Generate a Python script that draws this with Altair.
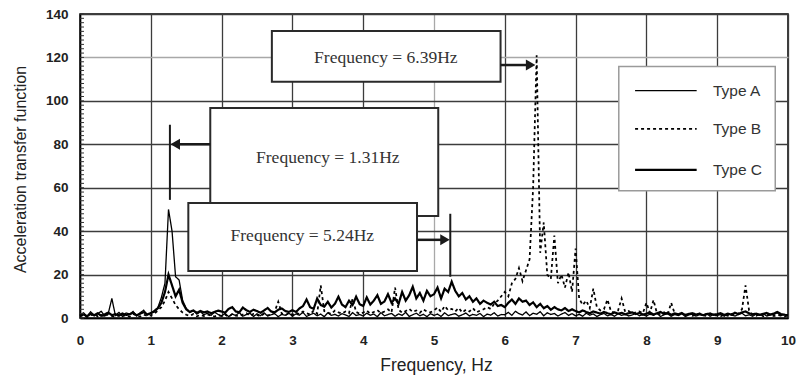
import altair as alt
import pandas as pd

# ---------------- data ----------------
step = 0.05
freq = [round(i * step, 2) for i in range(201)]

type_a = [
    1.5, 2.4, 0.8, 2.9, 1.2, 2.0, 3.1, 0.9, 2.2, 9.0, 1.1, 2.6, 0.7, 2.3, 1.8, 3.0, 1.0, 2.4, 3.6, 1.4,
    2.0, 3.5, 4.8, 9.5, 16.0, 50.0, 40.0, 19.0, 17.5, 8.0, 4.5, 2.6, 3.4, 1.8, 2.9, 1.5, 2.2, 1.2, 2.7, 1.6,
    1.0, 2.1, 0.6, 1.8, 1.2, 2.5, 0.8, 1.6, 2.2, 0.7, 1.9, 1.1, 2.4, 0.9, 1.5, 2.0, 0.6, 1.7, 1.2, 2.3,
    0.8, 1.9, 1.3, 2.6, 0.7, 1.5, 2.2, 1.0, 1.8, 0.6, 2.4, 1.2, 1.7, 0.9, 2.0, 1.4, 0.7, 2.5, 1.1, 1.6,
    0.9, 2.2, 1.3, 1.8, 0.6, 2.5, 1.0, 1.6, 2.1, 0.8, 1.9, 1.2, 2.6, 0.7, 1.5, 2.2, 1.0, 1.7, 0.6, 2.0,
    1.2, 1.8, 0.7, 2.4, 1.1, 1.6, 2.0, 0.8, 1.5, 2.3, 0.9, 1.7, 1.2, 2.1, 0.6, 1.8, 1.3, 2.4, 0.9, 1.6,
    1.5, 2.6, 1.2, 3.1, 2.0, 1.4, 2.8, 1.1, 2.2, 1.7, 2.9, 1.0, 2.4, 1.6, 2.1, 0.9, 1.8, 2.5, 1.2, 2.0,
    1.0, 1.7, 0.8, 2.2, 1.3, 1.9, 0.7, 1.5, 2.1, 1.0, 1.6, 0.8, 2.0, 1.2, 1.7, 0.9, 1.4, 2.2, 1.0, 1.5,
    0.9, 1.8, 1.2, 2.1, 0.7, 1.5, 1.9, 0.8, 1.6, 1.1, 2.0, 0.7, 1.4, 1.8, 0.9, 1.5, 1.2, 2.0, 0.8, 1.6,
    1.1, 1.7, 0.8, 1.9, 1.3, 0.9, 1.6, 2.2, 1.0, 1.5, 0.8, 1.8, 1.2, 2.0, 0.9, 1.4, 1.7, 2.4, 1.1, 1.6, 1.3,
]

type_b = [
    0.8, 1.5, 0.5, 1.2, 2.0, 0.7, 1.4, 0.6, 1.8, 1.0, 0.5, 1.6, 0.9, 1.3, 0.6, 1.9, 1.1, 0.7, 1.5, 1.0,
    1.2, 2.0, 3.5, 5.0, 8.0, 12.0, 9.0, 6.0, 4.0, 2.5, 1.5, 1.0, 1.8, 0.8, 1.4, 0.9, 1.6, 1.1, 0.7, 1.3,
    0.9, 1.5, 0.6, 1.8, 1.1, 0.8, 1.6, 2.2, 1.0, 1.9, 1.4, 0.7, 2.0, 1.2, 1.6, 3.0, 7.5, 2.0, 1.3, 2.2,
    1.5, 2.4, 1.8, 3.0, 2.2, 1.6, 3.5, 2.0, 15.0, 3.2, 2.5, 1.8, 3.4, 2.6, 2.0, 3.0, 2.2, 9.0, 2.8, 1.9,
    2.5, 3.4, 2.0, 2.8, 3.6, 2.2, 3.0, 4.0, 2.6, 14.0, 3.8, 2.4, 3.2, 4.2, 2.8, 3.5, 2.4, 4.0, 3.0, 2.6,
    3.5, 4.8, 2.8, 5.5, 3.6, 4.2, 3.0, 4.6, 2.5, 3.8, 3.0, 4.5, 2.6, 3.4, 4.0, 5.0, 4.2, 6.5, 8.0, 10.0,
    12.0, 10.0, 16.0, 18.0, 23.0, 17.0, 22.0, 27.0, 60.0, 121.0, 30.0, 44.0, 20.0, 18.0, 38.0, 16.0, 20.0, 14.0, 21.0, 12.0,
    32.0, 9.0, 6.0, 8.0, 4.5, 13.5, 5.0, 3.5, 4.0, 8.5, 3.0, 2.5, 3.5, 9.0, 2.8, 3.2, 2.0, 2.6, 3.0, 2.2,
    7.0, 2.4, 8.3, 2.0, 1.8, 2.6, 1.5, 7.0, 2.0, 1.6, 2.2, 1.2, 1.8, 1.0, 1.5, 2.0, 1.2, 0.9, 1.6, 1.1,
    1.3, 0.8, 1.6, 1.0, 1.9, 1.2, 2.0, 4.0, 15.0, 3.5, 1.5, 1.0, 1.8, 0.8, 1.3, 1.6, 0.9, 1.4, 1.1, 0.7, 1.2,
]

type_c = [
    1.0, 1.6, 0.8, 1.9, 1.2, 2.2, 1.0, 1.7, 2.5, 1.3, 1.8, 1.0, 2.1, 1.4, 1.7, 2.4, 1.2, 2.0, 2.7, 1.6,
    2.3, 3.0, 4.5, 7.0, 12.0, 20.0, 15.0, 10.0, 13.0, 7.0, 4.0, 2.8, 3.5, 2.4, 3.2, 2.6, 3.0, 2.2, 2.8, 3.4,
    3.0, 2.4, 4.2, 5.0, 3.0, 2.6, 4.8, 3.6, 2.8, 3.8, 3.2, 2.4, 3.5, 4.6, 3.0, 2.6, 3.8, 4.4, 3.2, 2.8,
    3.6, 2.8, 4.4, 5.5, 8.5, 5.0, 4.2, 9.0, 6.0, 5.2, 7.5, 4.8, 6.5, 9.8, 6.2, 5.0, 8.0, 6.0, 9.8, 6.4,
    5.5, 9.5, 6.2, 8.0, 10.5, 6.5, 7.6, 11.0, 7.0, 9.0, 6.5, 12.0, 8.0, 10.5, 14.4, 9.0, 11.5, 8.0, 12.5, 10.0,
    11.0, 14.0, 9.0, 13.5, 12.0, 16.7, 12.5, 10.0, 11.5, 8.5, 10.0, 7.5, 9.0, 6.5, 8.0, 7.0, 6.2, 7.5, 5.5, 6.0,
    5.0, 7.0, 8.5, 6.5, 9.0, 7.5, 8.0, 6.0, 7.2, 5.0, 6.5, 4.5, 5.5, 3.8, 5.0, 4.0, 3.5, 4.6, 3.2, 4.0,
    3.2, 2.6, 3.5, 2.8, 2.2, 3.0, 2.5, 2.0, 2.8, 2.2, 1.8, 2.6, 2.0, 2.4, 1.7, 2.2, 2.6, 1.8, 2.3, 1.6,
    2.0, 2.5, 1.6, 2.2, 2.8, 1.8, 2.4, 1.5, 2.1, 1.7, 2.3, 1.4, 1.9, 2.2, 1.6, 2.0, 1.3, 1.8, 2.1, 1.5,
    1.8, 2.2, 1.4, 2.0, 1.6, 2.4, 1.8, 2.6, 3.0, 2.2, 1.7, 2.0, 1.5, 1.9, 2.3, 1.6, 2.0, 2.8, 1.8, 1.5, 1.2,
]

series_names = ["Type A", "Type B", "Type C"]
x_ticks = list(range(0, 11))
y_ticks = list(range(0, 141, 20))
y_minor = list(range(0, 141, 2))

# annotation boxes (data coordinates)
box_labels = ["Frequency = 6.39Hz", "Frequency = 1.31Hz", "Frequency = 5.24Hz"]
box_x1 = [2.71, 1.84, 1.53]
box_x2 = [5.94, 5.06, 4.76]
box_y1 = [108.8, 47.0, 21.6]
box_y2 = [132.2, 96.7, 53.0]
box_tx = [4.32, 3.50, 3.14]
box_ty = [119.9, 73.8, 37.8]

# arrows: shaft start, tip, height
arrow_from = [5.94, 1.84, 4.76]
arrow_tip = [6.44, 1.27, 5.23]
arrow_y = [116.5, 80.0, 36.0]
arrow_dir = ["triangle-right", "triangle-left", "triangle-right"]

# vertical marker lines
marker_x = [1.27, 5.23]
marker_y1 = [54.4, 19.0]
marker_y2 = [89.0, 48.0]

# legend box
legend_x = [7.61, 9.82]
legend_y = [58.6, 115.8]
legend_sym_x = [7.84, 8.71]
legend_row_y = [104.7, 87.1, 68.2]
legend_text_x = 8.94

assert len(type_a) == len(type_b) == len(type_c) == len(freq)

# ---------------- build tables ----------------
lines_df = pd.DataFrame({
    "freq": freq * 3,
    "value": type_a + type_b + type_c,
    "type": [series_names[0]] * len(freq) + [series_names[1]] * len(freq) + [series_names[2]] * len(freq),
})

boxes_df = pd.DataFrame({"x1": box_x1, "x2": box_x2, "y1": box_y1, "y2": box_y2,
                         "tx": box_tx, "ty": box_ty, "label": box_labels})

head_offset = 0.075
head_x = [t - head_offset if d == "triangle-right" else t + head_offset for t, d in zip(arrow_tip, arrow_dir)]
arrows_df = pd.DataFrame({"x1": arrow_from, "x2": head_x, "hx": head_x, "y": arrow_y, "shape": arrow_dir})
markers_df = pd.DataFrame({"x": marker_x, "y1": marker_y1, "y2": marker_y2})
minor_df = pd.DataFrame({"y": y_minor})
legend_box_df = pd.DataFrame({"x1": [legend_x[0]], "x2": [legend_x[1]], "y1": [legend_y[0]], "y2": [legend_y[1]]})
legend_rows_df = pd.DataFrame({
    "type": series_names,
    "y": legend_row_y,
    "x1": [legend_sym_x[0]] * 3,
    "x2": [legend_sym_x[1]] * 3,
    "tx": [legend_text_x] * 3,
})

# ---------------- scales & axes ----------------
xs = alt.Scale(domain=[0, 10], nice=False, zero=False)
ys = alt.Scale(domain=[0, 140], nice=False, zero=False)
dash_scale = alt.Scale(domain=series_names, range=[[1, 0], [3, 3], [1, 0]])
width_scale = alt.Scale(domain=series_names, range=[1.3, 2.2, 3.6])

GRID_DARK = "#3c3c3c"
GRID_LIGHT = "#a8a8a8"

x_axis = alt.Axis(
    values=x_ticks, title="Frequency, Hz", grid=True,
    gridColor={"condition": {"test": "datum.value === 5", "value": GRID_LIGHT}, "value": GRID_DARK},
    gridWidth=1.3, domainColor="black", domainWidth=1.5, tickSize=0,
    labelFont="Liberation Sans", labelFontSize=13.5, labelFontWeight="bold", labelColor="#222",
    labelPadding=15, labelFlush=False,
    titleFont="Liberation Sans", titleFontSize=17.5, titleFontWeight="normal", titleColor="#222",
    titleX=356, titleY=47, titleBaseline="middle",
)
y_axis = alt.Axis(
    values=y_ticks, title="Acceleration transfer function", grid=True,
    gridColor={"condition": {"test": "datum.value === 120", "value": GRID_LIGHT}, "value": GRID_DARK},
    gridWidth=1.3, domainColor="black", domainWidth=1.5, tickSize=0,
    labelFont="Liberation Sans", labelFontSize=13.5, labelFontWeight="bold", labelColor="#222",
    labelPadding=12, labelFlush=False,
    titleFont="Liberation Sans", titleFontSize=16, titleFontWeight="normal", titleColor="#222",
    titleX=-60, titleY=155, titleBaseline="middle", titleAngle=270,
)


def X(field):
    return alt.X(field, scale=xs, axis=x_axis, title="Frequency, Hz")


def Y(field):
    return alt.Y(field, scale=ys, axis=y_axis, title="Acceleration transfer function")


lines = alt.Chart(lines_df).mark_line(color="black", strokeCap="butt", strokeJoin="miter").encode(
    x=X("freq:Q"),
    y=Y("value:Q"),
    strokeDash=alt.StrokeDash("type:N", scale=dash_scale, legend=None),
    strokeWidth=alt.StrokeWidth("type:N", scale=width_scale, legend=None),
    detail="type:N",
)

minor_ticks = alt.Chart(minor_df).mark_rule(color="#333", strokeWidth=1).encode(
    y=Y("y:Q"),
    x=alt.value(0), x2=alt.value(4),
)

boxes = alt.Chart(boxes_df).mark_rect(fill="white", stroke="#2a2a2a", strokeWidth=2).encode(
    x=X("x1:Q"), x2="x2:Q",
    y=Y("y1:Q"), y2="y2:Q",
)
box_text = alt.Chart(boxes_df).mark_text(font="Liberation Serif", fontSize=17.5, color="#333",
                                         align="center", baseline="middle").encode(
    x=X("tx:Q"),
    y=Y("ty:Q"),
    text="label:N",
)

shafts = alt.Chart(arrows_df).mark_rule(color="#1a1a1a", strokeWidth=2.5).encode(
    x=X("x1:Q"), x2="x2:Q",
    y=Y("y:Q"),
)
heads = alt.Chart(arrows_df).mark_point(filled=True, color="#1a1a1a", opacity=1, size=120).encode(
    x=X("hx:Q"),
    y=Y("y:Q"),
    shape=alt.Shape("shape:N", scale=None),
)
markers = alt.Chart(markers_df).mark_rule(color="#1a1a1a", strokeWidth=2).encode(
    x=X("x:Q"),
    y=Y("y1:Q"), y2="y2:Q",
)

legend_box = alt.Chart(legend_box_df).mark_rect(fill="white", stroke="#9a9a9a", strokeWidth=1.5).encode(
    x=X("x1:Q"), x2="x2:Q",
    y=Y("y1:Q"), y2="y2:Q",
)
legend_lines = alt.Chart(legend_rows_df).mark_rule(color="black", strokeCap="butt").encode(
    x=X("x1:Q"), x2="x2:Q",
    y=Y("y:Q"),
    strokeDash=alt.StrokeDash("type:N", scale=dash_scale, legend=None),
    strokeWidth=alt.StrokeWidth("type:N", scale=width_scale, legend=None),
)
legend_text = alt.Chart(legend_rows_df).mark_text(font="Liberation Sans", fontSize=15.5, color="#333",
                                                  align="left", baseline="middle").encode(
    x=X("tx:Q"),
    y=Y("y:Q"),
    text="type:N",
)

chart = alt.layer(
    lines, minor_ticks, boxes, box_text, shafts, heads, markers,
    legend_box, legend_lines, legend_text,
).properties(
    width=708, height=304,
    padding={"left": 80, "top": 14, "right": 12, "bottom": 58},
    autosize=alt.AutoSizeParams(type="none"),
    background="white",
).configure_view(stroke="black", strokeWidth=1.5)

chart.save("out.html", embed_options={"renderer": "svg", "actions": False})
